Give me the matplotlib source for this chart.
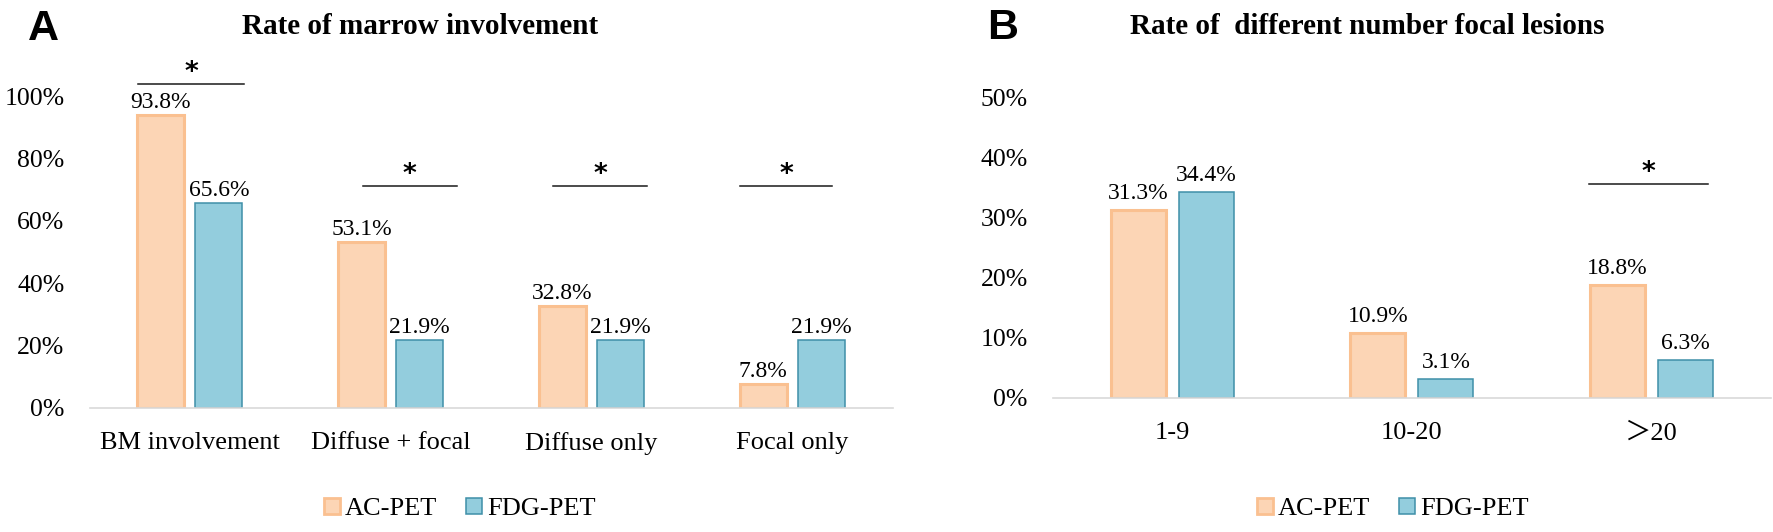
import matplotlib
matplotlib.use("Agg")
import matplotlib.pyplot as plt
from matplotlib.patches import Patch
from matplotlib.transforms import offset_copy
import numpy as np

# ---- data ----
cats_a = ["BM involvement", "Diffuse + focal", "Diffuse only", "Focal only"]
ac_a = [93.8, 53.1, 32.8, 7.8]
fdg_a = [65.6, 21.9, 21.9, 21.9]
sig_a = [True, True, True, True]

cats_b = ["1-9", "10-20", "＞20"]
ac_b = [31.3, 10.9, 18.8]
fdg_b = [34.4, 3.1, 6.3]
sig_b = [False, False, True]

series_names = ["AC-PET", "FDG-PET"]
title_a = "Rate of marrow involvement"
title_b = "Rate of  different number focal lesions"

# significance bracket spans (category units relative to category centre)
span_a = [(-0.26, 0.27), (-0.14, 0.33), (-0.19, 0.275), (-0.26, 0.2)]
span_b = [(0, 0), (0, 0), (-0.26, 0.235)]

AC_FILL, AC_EDGE = "#FCD5B5", "#FAC090"
FDG_FILL, FDG_EDGE = "#93CDDD", "#3F8FA8"
SERIF = ["Liberation Serif", "Noto Sans CJK SC", "DejaVu Serif"]
SANS = ["Liberation Sans", "DejaVu Sans"]

W, H = 1773, 532
fig = plt.figure(figsize=(W / 100, H / 100), dpi=100)


def add_ax(x0, x1, y0_px, px_per_unit, ymax):
    ytop = y0_px - px_per_unit * ymax
    return fig.add_axes([x0 / W, (H - y0_px) / H, (x1 - x0) / W, (y0_px - ytop) / H])


def draw(ax, cats, ac, fdg, sig, ymax, step, star_y, off, bw, spans, lab_off):
    x = np.arange(len(cats))
    ax.bar(x - off, ac, bw, color=AC_FILL, edgecolor=AC_EDGE, linewidth=2.2, zorder=3)
    ax.bar(x + off, fdg, bw, color=FDG_FILL, edgecolor=FDG_EDGE, linewidth=1.1, zorder=3)
    tr_lab = offset_copy(ax.transData, fig=fig, y=lab_off, units="dots")
    for xi, v in zip(x - off, ac):
        ax.text(xi, v, f"{v:.1f}%", ha="center", va="baseline", transform=tr_lab,
                family=SERIF, fontsize=17)
    for xi, v in zip(x + off, fdg):
        ax.text(xi, v, f"{v:.1f}%", ha="center", va="baseline", transform=tr_lab,
                family=SERIF, fontsize=17)
    tr_star = offset_copy(ax.transData, fig=fig, y=4, units="dots")
    for xi, s, sy, (l, r) in zip(x, sig, star_y, spans):
        if s:
            ax.plot([xi + l, xi + r], [sy, sy], color="#1a1a1a",
                    lw=1.1, zorder=4, clip_on=False)
            ax.text(xi + (l + r) / 2, sy, "*", ha="center", va="baseline", fontsize=19,
                    family="DejaVu Sans", fontweight="bold", transform=tr_star)
    ax.set_xlim(-0.5, len(cats) - 0.5)
    ax.set_ylim(0, ymax)
    ticks = np.arange(0, ymax + 0.01, step)
    ax.set_yticks(ticks)
    ax.set_yticklabels([f"{int(t)}%" for t in ticks], family=SERIF, fontsize=18.5)
    ax.set_xticks(x)
    ax.set_xticklabels(cats, family=SERIF, fontsize=19)
    ax.tick_params(axis="both", length=0)
    ax.tick_params(axis="y", pad=18)
    ax.tick_params(axis="x", pad=17.5)
    for sp in ["top", "right", "left"]:
        ax.spines[sp].set_visible(False)
    ax.spines["bottom"].set_color("#D9D9D9")
    ax.spines["bottom"].set_linewidth(1.2)
    ax.spines["bottom"].set_zorder(5)


# Panel A
axA = add_ax(89.6, 892.6, 408, 3.12, 110)
draw(axA, cats_a, ac_a, fdg_a, sig_a, 110, 20, [103.8, 71, 71, 71], 0.1445, 0.234,
     span_a, 7)
fig.text(420 / W, 1 - 27 / H, title_a, ha="center", va="center", family=SERIF,
         fontsize=21, fontweight="bold")
fig.text(43 / W, 1 - 29 / H, "A", ha="center", va="center", family=SANS,
         fontsize=31, fontweight="bold")

# Panel B
axB = add_ax(1052.75, 1771, 398, 6.0, 55)
draw(axB, cats_b, ac_b, fdg_b, sig_b, 55, 10, [35.7, 35.7, 35.7], 0.142, 0.2296,
     span_b, 11)
fig.text(1367 / W, 1 - 27 / H, title_b, ha="center", va="center", family=SERIF,
         fontsize=21, fontweight="bold")
fig.text(1003 / W, 1 - 28 / H, "B", ha="center", va="center", family=SANS,
         fontsize=31, fontweight="bold")

handles = [Patch(facecolor=AC_FILL, edgecolor=AC_EDGE, linewidth=2),
           Patch(facecolor=FDG_FILL, edgecolor=FDG_EDGE, linewidth=1.1)]
legkw = dict(ncol=2, frameon=False, prop={"family": SERIF, "size": 19},
             handlelength=0.6, handleheight=0.6, handletextpad=0.2, columnspacing=1.1,
             loc="center")
fig.legend(handles, series_names, bbox_to_anchor=(460 / W, 1 - 509 / H), **legkw)
fig.legend(handles, series_names, bbox_to_anchor=(1393 / W, 1 - 509 / H), **legkw)

fig.savefig("out.png", dpi=100)
